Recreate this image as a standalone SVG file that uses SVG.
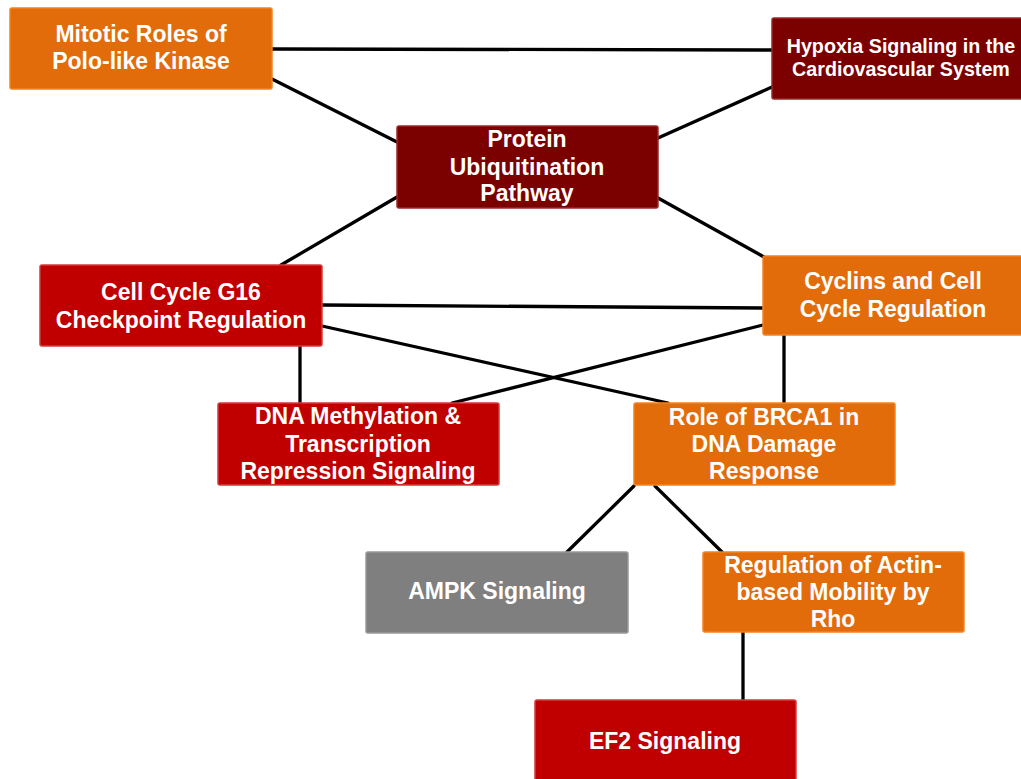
<svg xmlns="http://www.w3.org/2000/svg" width="1021" height="779" viewBox="0 0 1021 779">
<style>
.box{stroke-width:1.5}
.or{fill:#e36c0a;stroke:#f58220}
.dr{fill:#7b0000;stroke:#9a2a2a}
.rd{fill:#c00000;stroke:#d43a3a}
.gr{fill:#7f7f7f;stroke:#999999}
.t{font-family:"Liberation Sans",Arial,sans-serif;font-weight:bold;font-size:23px;fill:#ffffff;text-anchor:middle}
.s{font-size:19.7px}
.c line{stroke:#000000;stroke-width:3.3;stroke-linecap:round}
</style>
<rect width="1021" height="779" fill="#ffffff"/>
<g class="c" id="connectors">
<line x1="272" y1="49" x2="772" y2="50"/>
<line x1="272" y1="79" x2="397" y2="142"/>
<line x1="772" y1="87" x2="658" y2="138"/>
<line x1="397" y1="197" x2="281" y2="265"/>
<line x1="658" y1="198" x2="773" y2="262"/>
<line x1="322" y1="305" x2="763" y2="308"/>
<line x1="322" y1="326" x2="668" y2="403"/>
<line x1="763" y1="325" x2="452" y2="403"/>
<line x1="300" y1="346" x2="300" y2="403"/>
<line x1="784" y1="335" x2="784" y2="403"/>
<line x1="634" y1="486" x2="567" y2="552"/>
<line x1="655" y1="486" x2="722" y2="552"/>
<line x1="743" y1="632" x2="743" y2="700"/>
</g>
<g id="mitotic"><rect class="box or" x="10" y="8" width="262" height="81" rx="2"/><text class="t" x="141" y="42">Mitotic Roles of</text><text class="t" x="141" y="69">Polo-like Kinase</text></g>
<g id="hypoxia"><rect class="box dr" x="772" y="18" width="252" height="81" rx="2"/><text class="t s" x="901" y="53">Hypoxia Signaling in the</text><text class="t s" x="901" y="76">Cardiovascular System</text></g>
<g id="protein"><rect class="box dr" x="397" y="126" width="261" height="82" rx="2"/><text class="t" x="527" y="147">Protein</text><text class="t" x="527" y="175">Ubiquitination</text><text class="t" x="527" y="201">Pathway</text></g>
<g id="cellcycle"><rect class="box rd" x="40" y="265" width="282" height="81" rx="2"/><text class="t" x="181" y="300">Cell Cycle G16</text><text class="t" x="181" y="328">Checkpoint Regulation</text></g>
<g id="cyclins"><rect class="box or" x="763" y="256" width="261" height="79" rx="2"/><text class="t" x="893" y="289">Cyclins and Cell</text><text class="t" x="893" y="317">Cycle Regulation</text></g>
<g id="dnameth"><rect class="box rd" x="218" y="403" width="281" height="82" rx="2"/><text class="t" x="358" y="424">DNA Methylation &amp;</text><text class="t" x="358" y="452">Transcription</text><text class="t" x="358" y="479">Repression Signaling</text></g>
<g id="brca1"><rect class="box or" x="634" y="403" width="261" height="82" rx="2"/><text class="t" x="764" y="425">Role of BRCA1 in</text><text class="t" x="764" y="452">DNA Damage</text><text class="t" x="764" y="479">Response</text></g>
<g id="ampk"><rect class="box gr" x="366" y="552" width="262" height="81" rx="2"/><text class="t" x="497" y="599">AMPK Signaling</text></g>
<g id="actin"><rect class="box or" x="703" y="552" width="261" height="80" rx="2"/><text class="t" x="833" y="573">Regulation of Actin-</text><text class="t" x="833" y="600">based Mobility by</text><text class="t" x="833" y="627">Rho</text></g>
<g id="ef2"><rect class="box rd" x="535" y="700" width="261" height="82" rx="2"/><text class="t" x="665" y="749">EF2 Signaling</text></g>
</svg>
